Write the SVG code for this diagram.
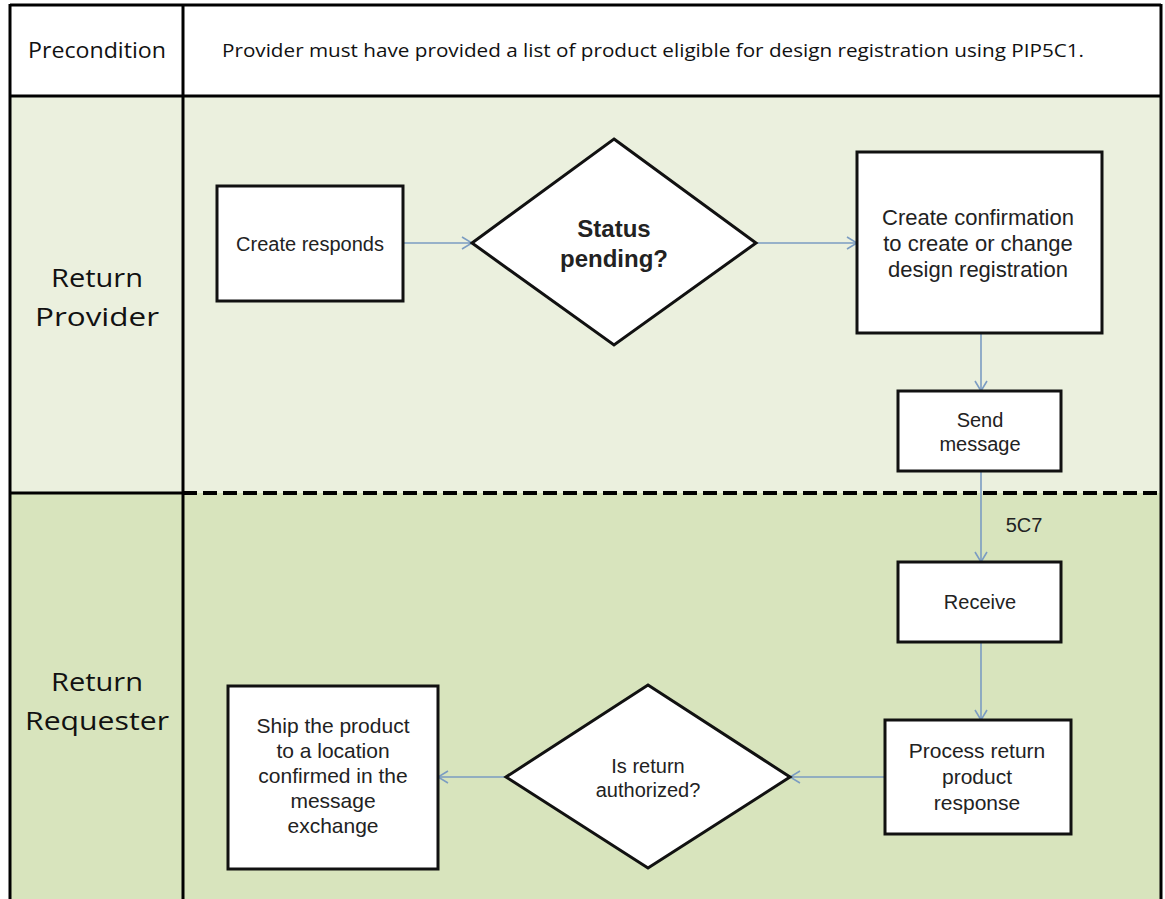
<svg xmlns="http://www.w3.org/2000/svg" width="1165" height="899" viewBox="0 0 1165 899">
<style>
.frame{stroke:#000;stroke-width:3;fill:none}
.box{fill:#fff;stroke:#111;stroke-width:3}
.t{font-family:"Liberation Sans",Arial,sans-serif;fill:#222;text-anchor:middle}
.lane{font-family:"Open Sans","Liberation Sans",sans-serif;fill:#111;text-anchor:middle}
.conn{stroke:#7b9cc2;stroke-width:1.6;fill:none}
</style>
<defs>
<marker id="arr" viewBox="0 0 12 14" refX="11" refY="7" markerWidth="12" markerHeight="14" markerUnits="userSpaceOnUse" orient="auto">
<path d="M1,1 L11,7 L1,13" fill="none" stroke="#7b9cc2" stroke-width="1.6"/>
</marker>
</defs>
<rect width="1165" height="899" fill="#fff"/>
<g id="lanes">
<rect x="10" y="5" width="1151" height="91" fill="#fff"/>
<rect x="10" y="96" width="1151" height="397" fill="#ebf0de"/>
<rect x="10" y="493" width="1151" height="406" fill="#d8e4bd"/>
<line class="frame" x1="10" y1="5" x2="1161" y2="5"/>
<line class="frame" x1="10" y1="4" x2="10" y2="899"/>
<line class="frame" x1="1161" y1="4" x2="1161" y2="899"/>
<line class="frame" x1="183" y1="5" x2="183" y2="899"/>
<line class="frame" x1="10" y1="96" x2="1161" y2="96"/>
<line class="frame" x1="10" y1="493" x2="183" y2="493"/>
<line x1="183" y1="493" x2="1161" y2="493" stroke="#000" stroke-width="4" stroke-dasharray="14,6"/>
<text class="lane" x="97" y="58" font-size="21" textLength="138" lengthAdjust="spacingAndGlyphs">Precondition</text>
<text class="lane" x="653" y="57" font-size="19" textLength="862" lengthAdjust="spacingAndGlyphs">Provider must have provided a list of product eligible for design registration using PIP5C1.</text>
<text class="lane" x="97" y="287" font-size="26" textLength="92" lengthAdjust="spacingAndGlyphs">Return</text>
<text class="lane" x="97" y="326" font-size="26" textLength="124" lengthAdjust="spacingAndGlyphs">Provider</text>
<text class="lane" x="97" y="691" font-size="26" textLength="92" lengthAdjust="spacingAndGlyphs">Return</text>
<text class="lane" x="97" y="730" font-size="26" textLength="144" lengthAdjust="spacingAndGlyphs">Requester</text>
</g>
<g id="connectors">
<line class="conn" x1="403" y1="243" x2="472" y2="243" marker-end="url(#arr)"/>
<line class="conn" x1="756" y1="243" x2="857" y2="243" marker-end="url(#arr)"/>
<line class="conn" x1="981" y1="333" x2="981" y2="391" marker-end="url(#arr)"/>
<line class="conn" x1="981" y1="471" x2="981" y2="562" marker-end="url(#arr)"/>
<text class="t" x="1024" y="532" font-size="20">5C7</text>
<line class="conn" x1="981" y1="642" x2="981" y2="720" marker-end="url(#arr)"/>
<line class="conn" x1="885" y1="777" x2="790" y2="777" marker-end="url(#arr)"/>
<line class="conn" x1="506" y1="777" x2="438" y2="777" marker-end="url(#arr)"/>
</g>
<g id="create-responds">
<rect class="box" x="217" y="186" width="186" height="115"/>
<text class="t" x="310" y="251" font-size="20">Create responds</text>
</g>
<g id="status-pending">
<polygon class="box" points="614,139 756,243 614,345 472,243"/>
<text class="t" x="614" y="237" font-size="24" font-weight="bold">Status</text>
<text class="t" x="614" y="267" font-size="24" font-weight="bold">pending?</text>
</g>
<g id="create-confirmation">
<rect class="box" x="857" y="152" width="245" height="181"/>
<text class="t" x="978" y="225" font-size="22">Create confirmation</text>
<text class="t" x="978" y="251" font-size="22">to create or change</text>
<text class="t" x="978" y="277" font-size="22">design registration</text>
</g>
<g id="send-message">
<rect class="box" x="898" y="391" width="163" height="80"/>
<text class="t" x="980" y="427" font-size="20">Send</text>
<text class="t" x="980" y="451" font-size="20">message</text>
</g>
<g id="receive">
<rect class="box" x="898" y="562" width="163" height="80"/>
<text class="t" x="980" y="609" font-size="20">Receive</text>
</g>
<g id="process-return">
<rect class="box" x="885" y="720" width="186" height="114"/>
<text class="t" x="977" y="758" font-size="21">Process return</text>
<text class="t" x="977" y="784" font-size="21">product</text>
<text class="t" x="977" y="810" font-size="21">response</text>
</g>
<g id="is-return-authorized">
<polygon class="box" points="648,685 790,777 648,868 506,777"/>
<text class="t" x="648" y="773" font-size="20">Is return</text>
<text class="t" x="648" y="797" font-size="20">authorized?</text>
</g>
<g id="ship-product">
<rect class="box" x="228" y="686" width="210" height="183"/>
<text class="t" x="333" y="733" font-size="21">Ship the product</text>
<text class="t" x="333" y="758" font-size="21">to a location</text>
<text class="t" x="333" y="783" font-size="21">confirmed in the</text>
<text class="t" x="333" y="808" font-size="21">message</text>
<text class="t" x="333" y="833" font-size="21">exchange</text>
</g>
</svg>
